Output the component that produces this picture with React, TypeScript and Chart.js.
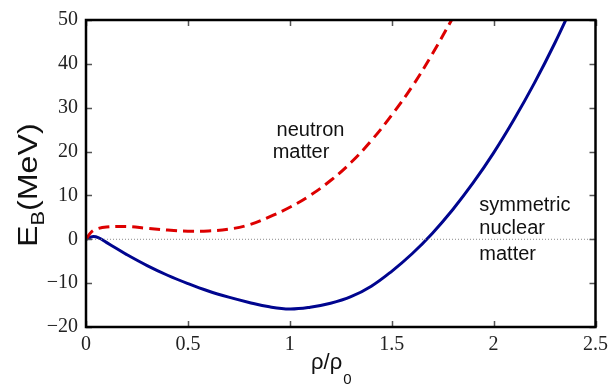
import { useEffect, useRef } from 'react';
import { Chart, registerables } from 'chart.js';
Chart.register(...registerables);

// Symmetric nuclear matter: E_B (MeV) vs rho/rho0
const DENSITY_SNM = [0, 0.03, 0.06, 0.1, 0.15, 0.2, 0.3, 0.4, 0.5, 0.6, 0.7, 0.8, 0.9, 1.0, 1.1, 1.2, 1.3, 1.4, 1.5, 1.6, 1.7, 1.8, 1.9, 2.0, 2.1, 2.2, 2.3, 2.4];
const ENERGY_SNM = [0, 0.6, 0.4, -0.7, -2.1, -3.5, -6.0, -8.2, -10.1, -11.8, -13.2, -14.4, -15.4, -15.9, -15.5, -14.6, -13.1, -10.7, -7.3, -3.3, 1.4, 6.8, 12.9, 19.7, 27.3, 35.6, 44.7, 54.6];

// Pure neutron matter
const DENSITY_PNM = [0, 0.025, 0.05, 0.1, 0.2, 0.3, 0.4, 0.5, 0.6, 0.7, 0.8, 0.9, 1.0, 1.1, 1.2, 1.3, 1.4, 1.5, 1.6, 1.7, 1.8];
const ENERGY_PNM = [0, 1.6, 2.3, 2.8, 2.9, 2.5, 2.1, 1.85, 1.9, 2.3, 3.3, 5.1, 7.3, 10.0, 13.4, 17.5, 22.5, 28.3, 34.8, 42.3, 50.5];

const ZERO_LINE_X = [0, 2.5];
const ZERO_LINE_Y = [0, 0];

const X_TICKS = [0, 0.5, 1, 1.5, 2, 2.5];
const Y_TICKS = [-20, -10, 0, 10, 20, 30, 40, 50];

const NEUTRON_LABEL = ['neutron', 'matter'];
const SNM_LABEL = ['symmetric', 'nuclear', 'matter'];

const fmt = (v: number) => (v < 0 ? '\u2212' + String(Math.abs(v)) : String(v));

const framePlugin = {
  id: 'frameAndText',
  afterDatasetsDraw(chart: any) {
    const { ctx, chartArea: a, scales } = chart;
    const xs = scales.x;
    const ys = scales.y;
    ctx.save();
    // inward ticks
    ctx.strokeStyle = '#555';
    ctx.lineWidth = 1.5;
    ctx.beginPath();
    X_TICKS.forEach((v) => {
      const px = Math.round(xs.getPixelForValue(v)) + 0.5;
      ctx.moveTo(px, a.bottom);
      ctx.lineTo(px, a.bottom - 6);
      ctx.moveTo(px, a.top);
      ctx.lineTo(px, a.top + 6);
    });
    Y_TICKS.forEach((v) => {
      const py = Math.round(ys.getPixelForValue(v)) + 0.5;
      ctx.moveTo(a.left, py);
      ctx.lineTo(a.left + 6, py);
      ctx.moveTo(a.right, py);
      ctx.lineTo(a.right - 6, py);
    });
    ctx.stroke();
    // frame
    ctx.strokeStyle = '#000';
    ctx.lineWidth = 2.5;
    ctx.strokeRect(a.left, a.top, a.right - a.left, a.bottom - a.top);

    // annotations
    ctx.fillStyle = '#111';
    ctx.font = '20px "Liberation Sans", Arial, sans-serif';
    ctx.textAlign = 'left';
    ctx.textBaseline = 'middle';
    ctx.fillText(NEUTRON_LABEL[0], xs.getPixelForValue(0.935), ys.getPixelForValue(24.8));
    ctx.fillText(NEUTRON_LABEL[1], xs.getPixelForValue(0.916), ys.getPixelForValue(19.8));
    ctx.fillText(SNM_LABEL[0], xs.getPixelForValue(1.93), ys.getPixelForValue(7.7));
    ctx.fillText(SNM_LABEL[1], xs.getPixelForValue(1.93), ys.getPixelForValue(2.5));
    ctx.fillText(SNM_LABEL[2], xs.getPixelForValue(1.93), ys.getPixelForValue(-3.4));

    // x title: rho/rho_0
    ctx.textBaseline = 'alphabetic';
    ctx.font = '22px "Liberation Sans", Arial, sans-serif';
    const xt = 'ρ/ρ';
    const xtx = 311;
    ctx.fillText(xt, xtx, 369);
    const w1 = ctx.measureText(xt).width;
    ctx.font = '15px "Liberation Sans", Arial, sans-serif';
    ctx.fillText('0', xtx + w1 + 1, 384);

    // y title: E_B(MeV)
    ctx.translate(37, 247);
    ctx.rotate(-Math.PI / 2);
    ctx.scale(1.15, 1);
    ctx.font = '28px "Liberation Sans", Arial, sans-serif';
    ctx.fillText('E', 0, 0);
    let off = ctx.measureText('E').width;
    ctx.font = '19px "Liberation Sans", Arial, sans-serif';
    ctx.fillText('B', off, 7);
    off += ctx.measureText('B').width;
    ctx.font = '28px "Liberation Sans", Arial, sans-serif';
    ctx.fillText('(MeV)', off, 0);
    ctx.restore();
  },
};

export default function App() {
  const ref = useRef<HTMLCanvasElement>(null);
  useEffect(() => {
    if (!ref.current) return;
    const tickFont = { family: '"Liberation Serif", "Times New Roman", serif', size: 20 };
    const chart = new Chart(ref.current, {
      type: 'line',
      data: {
        datasets: [
          {
            data: ZERO_LINE_X.map((x, i) => ({ x, y: ZERO_LINE_Y[i] })),
            borderColor: '#8a8a8a',
            borderWidth: 1,
            borderDash: [1, 2],
            pointRadius: 0,
            clip: 0,
          },
          {
            data: DENSITY_PNM.map((x, i) => ({ x, y: ENERGY_PNM[i] })),
            borderColor: '#dd0000',
            borderWidth: 3,
            borderDash: [11, 6],
            pointRadius: 0,
            tension: 0.4,
            clip: 0,
          },
          {
            data: DENSITY_SNM.map((x, i) => ({ x, y: ENERGY_SNM[i] })),
            borderColor: '#00058f',
            borderWidth: 3,
            pointRadius: 0,
            tension: 0.4,
            clip: 0,
          },
        ],
      } as any,
      options: {
        animation: false,
        responsive: true,
        maintainAspectRatio: false,
        layout: { padding: { left: 0, top: 19, right: 12, bottom: 0 } },
        plugins: { legend: { display: false }, tooltip: { enabled: false } },
        scales: {
          x: {
            type: 'linear',
            min: 0,
            max: 2.5,
            grid: { display: false, drawTicks: false },
            border: { display: false },
            afterBuildTicks: (s: any) => {
              s.ticks = X_TICKS.map((value) => ({ value }));
            },
            afterFit: (s: any) => {
              s.height = 58;
            },
            ticks: {
              autoSkip: false,
              maxRotation: 0,
              padding: 6,
              color: '#222',
              font: tickFont,
              callback: (v: any) => fmt(Number(v)),
            },
          },
          y: {
            type: 'linear',
            min: -20,
            max: 50,
            grid: { display: false, drawTicks: false },
            border: { display: false },
            afterBuildTicks: (s: any) => {
              s.ticks = Y_TICKS.map((value) => ({ value }));
            },
            afterFit: (s: any) => {
              s.width = 86;
            },
            ticks: {
              autoSkip: false,
              padding: 8,
              color: '#222',
              font: tickFont,
              callback: (v: any) => fmt(Number(v)),
            },
          },
        },
      } as any,
      plugins: [framePlugin],
    });
    return () => chart.destroy();
  }, []);
  return (
    <div style={{ position: 'fixed', left: 0, top: 0, width: 614, height: 385, background: '#fff' }}>
      <canvas ref={ref} />
    </div>
  );
}
